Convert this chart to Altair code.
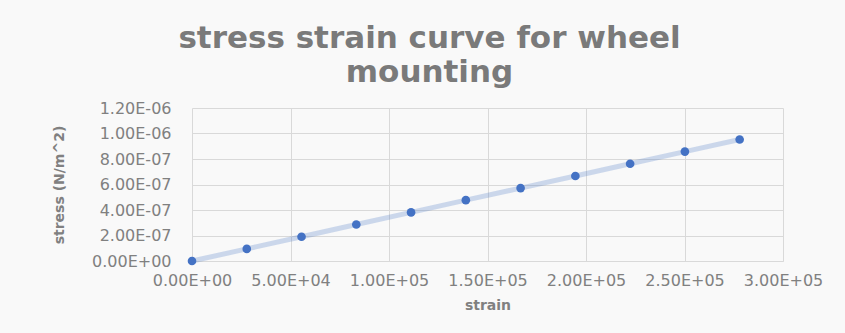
import altair as alt
import pandas as pd

strain = [0, 2.78e4, 5.56e4, 8.34e4, 1.112e5, 1.39e5, 1.668e5, 1.946e5, 2.224e5, 2.502e5, 2.78e5]
stress = [0, 9.5e-8, 1.9e-7, 2.86e-7, 3.81e-7, 4.77e-7, 5.72e-7, 6.67e-7, 7.63e-7, 8.58e-7, 9.53e-7]
x_ticks = [0, 5e4, 1e5, 1.5e5, 2e5, 2.5e5, 3e5]
y_ticks = [0, 2e-7, 4e-7, 6e-7, 8e-7, 1e-6, 1.2e-6]

df = pd.DataFrame({"strain": strain, "stress": stress})

E = "floor(log(abs(datum.value))/LN10 + 1e-9)"
sci = ("datum.value == 0 ? '0.00E+00' : format(datum.value / pow(10, " + E + "), '.2f') + 'E' + ("
       + E + " < 0 ? '-' : '+') + (abs(" + E + ") < 10 ? '0' : '') + abs(" + E + ")")

FONT = "DejaVu Sans"
GREY = "#808080"
GRID = "#d9d9d9"

x = alt.X("strain:Q", scale=alt.Scale(domain=[0, 3e5], nice=False),
          axis=alt.Axis(values=x_ticks, labelExpr=sci, title="strain", ticks=False,
                        labelFontSize=16, labelColor=GREY, labelFont=FONT, labelPadding=11,
                        titleFontSize=14, titleColor=GREY, titleFont=FONT, titleFontWeight="bold",
                        titlePadding=10, grid=True, gridColor=GRID, domainColor=GRID,
                        labelOverlap=False, labelFlush=False))
y = alt.Y("stress:Q", scale=alt.Scale(domain=[0, 1.2e-6], nice=False),
          axis=alt.Axis(values=y_ticks, labelExpr=sci, title="stress (N/m^2)", ticks=False,
                        labelFontSize=16, labelColor=GREY, labelFont=FONT, labelPadding=21,
                        titleFontSize=14, titleColor=GREY, titleFont=FONT, titleFontWeight="bold",
                        titlePadding=25, grid=True, gridColor=GRID, domain=False,
                        labelOverlap=False, labelFlush=False))

base = alt.Chart(df)
line = base.mark_line(color="#4472c4", opacity=0.25, strokeWidth=5).encode(x=x, y=y)
pts = base.mark_circle(color="#4472c4", opacity=1, size=75).encode(x=x, y=y)

chart = (line + pts).properties(
    width=591, height=153,
    title=alt.TitleParams(text=["stress strain curve for wheel", "mounting"],
                          font="DejaVu Sans", fontSize=31, fontWeight="bold", color="#7a7a7a",
                          anchor="middle", dx=-58, offset=11, lineHeight=34),
    autosize=alt.AutoSizeParams(type="none"),
    padding={"left": 192, "top": 108, "right": 62, "bottom": 72},
    background="#f9f9f9",
).configure_view(stroke=None)

chart.save("out.html", embed_options={"renderer": "svg", "actions": False})
